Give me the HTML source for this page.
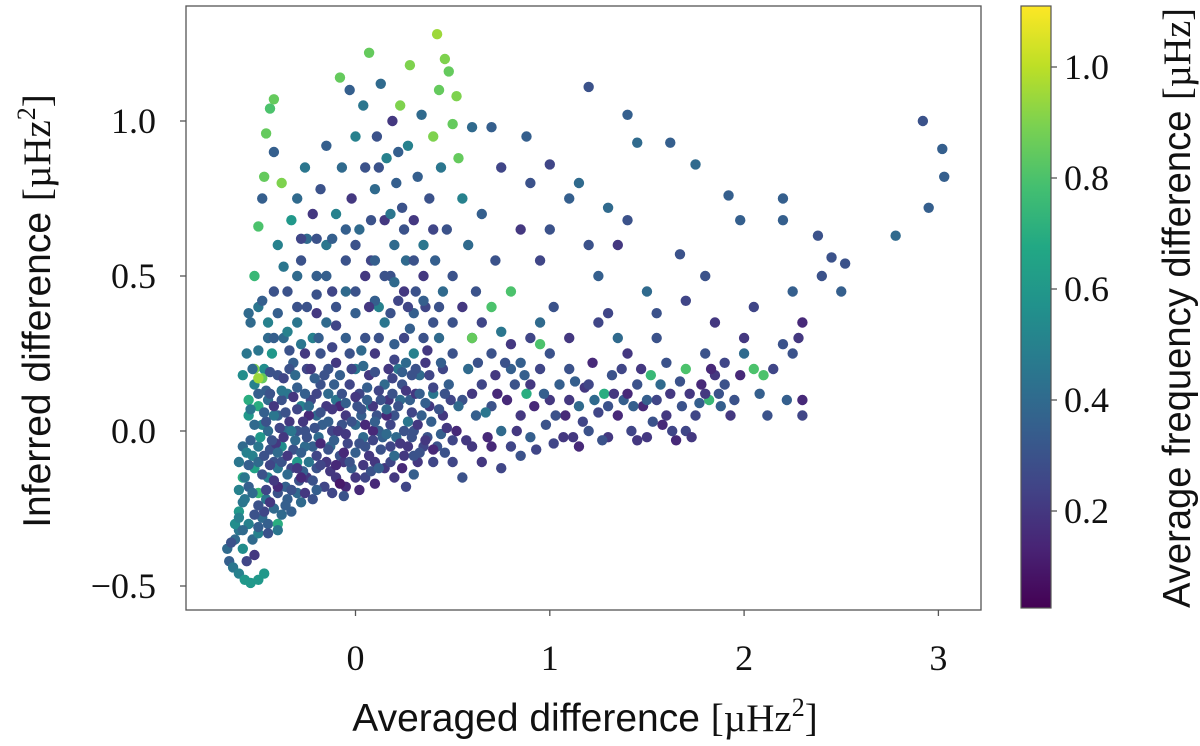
<!DOCTYPE html>
<html><head><meta charset="utf-8">
<style>
html,body{margin:0;padding:0;background:#fff;}
svg{display:block;}
.tk{font-family:"Liberation Serif","DejaVu Serif",serif;font-size:36px;fill:#111;}
.ttl{font-family:"Liberation Sans","DejaVu Sans",sans-serif;font-size:39px;fill:#111;}
</style></head>
<body>
<svg id="chart" width="1200" height="746" xmlns="http://www.w3.org/2000/svg">
<defs>
<linearGradient id="vir" x1="0" y1="1" x2="0" y2="0">
<stop offset="0" stop-color="#440154"/><stop offset="0.1" stop-color="#482475"/><stop offset="0.2" stop-color="#414487"/><stop offset="0.3" stop-color="#355f8d"/><stop offset="0.4" stop-color="#2a788e"/><stop offset="0.5" stop-color="#21918c"/><stop offset="0.6" stop-color="#22a884"/><stop offset="0.7" stop-color="#44bf70"/><stop offset="0.8" stop-color="#7ad151"/><stop offset="0.9" stop-color="#bddf26"/><stop offset="1" stop-color="#fde725"/>
</linearGradient>
</defs>
<g id="points"></g>
<rect x="186" y="6" width="795" height="604" fill="none" stroke="#555" stroke-width="1.3"/>
<g id="axes"></g>
<rect x="1021" y="6" width="30" height="602" fill="url(#vir)" stroke="#555" stroke-width="1.2"/>
<text class="ttl" x="585" y="731" text-anchor="middle">Averaged difference <tspan class="tk" style="font-size:39px">[µHz<tspan dy="-15" style="font-size:26px">2</tspan><tspan dy="15">]</tspan></tspan></text>
<text class="ttl" transform="translate(50,311) rotate(-90)" text-anchor="middle">Inferred difference <tspan class="tk" style="font-size:39px">[µHz<tspan dy="-15" style="font-size:26px">2</tspan><tspan dy="15">]</tspan></tspan></text>
<text class="ttl" transform="translate(1190,308) rotate(-90)" text-anchor="middle" textLength="600" lengthAdjust="spacingAndGlyphs">Average frequency difference <tspan class="tk" style="font-size:39px">[µHz]</tspan></text>
</svg>
<script>
const xTicks=[0,1,2,3];
const yTicks=[-0.5,0.0,0.5,1.0];
const cTicks=[0.2,0.4,0.6,0.8,1.0];
const pts=[
[-0.66,-0.38,.4],[-0.65,-0.42,.35],[-0.63,-0.44,.45],[-0.6,-0.46,.5],[-0.57,-0.48,.6],[-0.54,-0.49,.6],[-0.5,-0.48,.6],[-0.47,-0.46,.6],[-0.62,-0.35,.4],[-0.6,-0.32,.45],[-0.58,-0.38,.55],[-0.55,-0.3,.5],[-0.6,-0.26,.6],[-0.57,-0.22,.45],[-0.53,-0.35,.4],[-0.5,-0.33,.5],[-0.48,-0.28,.4],[-0.45,-0.3,.35],[-0.42,-0.25,.4],[-0.55,-0.18,.35],[-0.52,-0.12,.65],[-0.58,-0.15,.7],[-0.5,-0.2,.75],[-0.46,-0.22,.45],[-0.4,-0.2,.3],[-0.35,-0.22,.35],[-0.3,-0.2,.4],[-0.62,-0.3,.55],[-0.64,-0.36,.3],[-0.4,-0.3,.7],[-0.52,-0.4,.2],[-0.56,-0.42,.25],
[-0.5,-0.05,.45],[-0.48,0.02,.5],[-0.45,0.1,.4],[-0.42,-0.1,.3],[-0.4,0.05,.35],[-0.38,-0.05,.55],[-0.35,0.12,.45],[-0.33,-0.12,.25],[-0.3,0.0,.3],[-0.28,0.08,.5],[-0.25,-0.15,.2],[-0.22,-0.05,.35],[-0.2,0.05,.4],[-0.18,0.15,.3],[-0.15,-0.1,.2],[-0.12,0.0,.25],[-0.1,0.1,.45],[-0.08,-0.08,.3],[-0.05,0.05,.2],[-0.02,-0.12,.35],[0.0,0.02,.4],[0.02,0.12,.25],[0.05,-0.05,.3],[0.08,0.08,.5],[0.1,-0.1,.2],[0.12,0.0,.35],[0.15,0.15,.4],[0.18,-0.05,.25],[0.2,0.05,.3],[0.22,0.2,.45],[0.25,-0.08,.2],[0.28,0.1,.35],[0.3,0.0,.3],[0.33,0.18,.4],[0.35,-0.05,.25],[0.38,0.08,.2],[0.4,0.12,.45],
[-0.52,0.15,.5],[-0.47,0.2,.55],[-0.43,0.25,.6],[-0.4,0.18,.3],[-0.37,0.3,.4],[-0.32,0.22,.35],[-0.28,0.28,.45],[-0.25,0.2,.25],[-0.22,0.3,.5],[-0.18,0.25,.3],[-0.15,0.35,.4],[-0.1,0.22,.2],[-0.05,0.3,.35],[0.0,0.2,.45],[0.05,0.3,.3],[0.1,0.25,.2],[0.15,0.35,.45],[0.2,0.28,.35],[0.25,0.3,.25],[0.3,0.25,.5],[0.35,0.3,.3],
[-0.45,-0.15,.5],[-0.4,-0.12,.45],[-0.36,-0.18,.35],[-0.3,-0.1,.6],[-0.26,-0.05,.4],[-0.2,-0.12,.3],[-0.16,-0.18,.25],[-0.1,-0.15,.2],[-0.05,-0.18,.15],[0.0,-0.15,.2],[0.05,-0.15,.25],[0.1,-0.17,.15],[0.15,-0.12,.2],[-0.55,0.05,.6],[-0.53,-0.08,.5],[-0.5,0.08,.7],[-0.48,0.17,.85],[-0.45,0.0,.4],[-0.42,0.05,.45],[-0.38,0.1,.3],[-0.34,0.03,.2],[-0.3,0.14,.35],[-0.26,0.0,.3],[-0.23,0.1,.25],[-0.19,-0.02,.4],[-0.15,0.08,.2],[-0.11,0.15,.35],[-0.07,0.02,.3],[-0.03,0.15,.25],[0.01,0.08,.3],[0.04,-0.02,.4],[0.07,0.18,.2],[0.11,0.05,.3],[0.14,-0.02,.35],[0.17,0.1,.2],[0.21,-0.02,.4],[0.24,0.15,.3],[0.27,0.03,.45],[0.31,0.12,.2],[0.34,0.05,.35],[0.37,-0.02,.3],
[-0.56,0.25,.45],[-0.54,0.35,.4],[-0.5,0.4,.45],[-0.45,0.35,.5],[-0.52,0.2,.9],[-0.5,0.17,.95],[-0.55,0.1,.7],
[-0.44,-0.06,.3],[-0.36,0.0,.4],[-0.32,-0.06,.3],[-0.27,-0.13,.35],[-0.24,0.05,.15],[-0.17,0.02,.35],[-0.13,-0.05,.4],[-0.08,0.08,.15],[-0.04,-0.04,.25],[0.03,0.05,.35],[0.09,0.0,.15],[0.13,0.1,.3],[0.19,0.17,.25],[0.26,0.22,.4],[0.32,-0.1,.2],[-0.46,0.13,.35],[-0.41,-0.04,.2],[-0.34,0.2,.3],[-0.29,-0.16,.3],[-0.21,0.17,.35],[-0.14,0.2,.3],[-0.06,-0.1,.2],[0.06,0.14,.35],[0.16,0.05,.15],[0.23,0.1,.4],[0.29,0.18,.3],[0.36,0.22,.2],[-0.58,-0.05,.4],[-0.58,0.18,.55],[-0.6,-0.1,.45],
[-0.55,0.38,.4],[-0.52,0.5,.75],[-0.5,0.66,.8],[-0.48,0.75,.35],[-0.47,0.82,.85],[-0.46,0.96,.85],[-0.44,1.04,.8],[-0.42,1.07,.85],[-0.42,0.9,.35],[-0.4,0.6,.5],[-0.38,0.8,.9],[-0.37,0.53,.45],[-0.35,0.45,.3],[-0.33,0.68,.6],[-0.3,0.75,.4],[-0.3,0.4,.3],[-0.28,0.55,.3],[-0.26,0.85,.45],[-0.25,0.62,.4],[-0.22,0.7,.2],[-0.2,0.5,.35],[-0.18,0.78,.3],[-0.15,0.92,.35],[-0.15,0.6,.45],[-0.12,0.45,.25],[-0.1,0.7,.5],[-0.08,1.14,.85],[-0.07,0.85,.4],[-0.05,0.55,.3],[-0.03,1.1,.35],[-0.02,0.75,.2],[0.0,0.95,.5],[0.0,0.45,.3],[0.02,0.65,.4],[0.04,1.05,.45],[0.05,0.85,.3],[0.07,1.22,.85],[0.08,0.55,.25],[0.1,0.78,.4],[0.11,0.95,.3],[0.12,0.4,.5],[0.13,1.12,.4],[0.15,0.68,.2],[0.16,0.88,.5],[0.18,0.5,.3],[0.19,1.0,.2],[0.2,0.6,.4],[0.21,0.8,.35],[0.22,0.42,.25],[0.23,1.05,.9],[0.24,0.72,.3],[0.26,0.55,.4],[0.27,0.92,.5],[0.28,1.18,.9],[0.3,0.68,.2],[0.31,0.45,.3],[0.32,0.82,.35],[0.34,1.02,.4],[0.35,0.6,.45],[0.36,0.4,.25],[0.38,0.75,.3],[0.4,0.95,.9],[0.41,0.55,.35],[0.42,1.28,.95],[0.43,1.1,.85],[0.44,0.85,.45],[0.46,1.2,.9],[0.47,0.65,.3],[0.48,1.16,.85],[0.5,0.99,.85],[0.5,0.5,.3],[0.52,1.08,.9],[0.53,0.88,.85],[0.55,0.75,.5],[0.58,0.6,.4],[0.6,0.98,.4],[0.62,0.45,.3],[0.65,0.7,.35],[0.7,0.98,.35],[0.72,0.55,.3],[0.75,0.85,.25],[0.8,0.45,.8],[0.85,0.65,.2],[0.88,0.95,.35],[0.9,0.8,.3],[0.95,0.55,.25],[1.0,0.65,.3],[1.0,0.86,.25],[1.02,0.4,.3],[1.1,0.75,.35],[1.15,0.8,.4],[1.2,0.6,.3],[1.2,1.11,.3],[1.25,0.5,.35],[1.3,0.72,.4],[1.3,0.38,.25],[1.35,0.6,.2],[1.4,0.68,.3],[1.4,1.02,.35],[1.45,0.93,.4],[1.5,0.45,.4],[1.55,0.38,.3],[1.62,0.93,.35],[1.67,0.57,.3],[1.7,0.42,.25],[1.75,0.86,.4],[1.8,0.5,.3],[1.85,0.35,.2],[1.92,0.76,.35],[1.98,0.68,.35],[2.0,0.3,.2],[2.05,0.4,.25],[2.2,0.75,.35],[2.2,0.68,.35],[2.25,0.45,.35],[2.3,0.35,.15],[2.38,0.63,.3],[2.4,0.5,.3],[2.45,0.56,.3],[2.5,0.45,.35],[2.52,0.54,.3],[2.78,0.63,.4],[2.92,1.0,.3],[3.02,0.91,.35],[3.03,0.82,.35],[2.95,0.72,.35],
[-0.45,0.3,.4],[-0.4,0.38,.35],[-0.35,0.32,.5],[-0.25,0.4,.3],[-0.2,0.38,.2],[-0.1,0.4,.3],[-0.05,0.45,.4],[0.05,0.5,.2],[0.1,0.42,.35],[0.15,0.5,.3],[0.25,0.45,.2],[0.3,0.38,.35],[0.35,0.5,.2],[0.4,0.35,.3],[0.45,0.45,.4],[0.5,0.35,.3],[0.55,0.4,.2],[0.6,0.3,.35],[0.65,0.35,.25],[0.7,0.25,.3],[0.75,0.32,.45],[0.8,0.28,.2],[0.85,0.22,.35],[0.9,0.3,.25],[0.95,0.35,.4],[0.0,0.6,.3],[-0.12,0.62,.35],[0.18,0.7,.45],[0.08,0.68,.3],[-0.28,0.62,.25],
[0.42,-0.05,.3],[0.45,0.05,.2],[0.48,0.15,.35],[0.5,-0.1,.25],[0.52,0.0,.15],[0.55,0.1,.3],[0.58,0.2,.4],[0.6,-0.05,.2],[0.62,0.05,.35],[0.65,0.15,.25],[0.68,-0.02,.15],[0.7,0.08,.3],[0.72,0.18,.2],[0.75,0.0,.4],[0.78,0.1,.15],[0.8,-0.05,.25],[0.82,0.15,.3],[0.85,0.05,.2],[0.88,0.12,.7],[0.9,-0.02,.35],[0.92,0.08,.15],[0.95,0.2,.25],[0.98,0.02,.3],[1.0,0.1,.2],[1.02,-0.04,.25],[1.05,0.15,.35],[1.08,0.05,.15],[1.1,0.2,.3],[1.12,-0.02,.2],[1.15,0.08,.4],[1.18,0.14,.2],[1.2,0.0,.3],[1.22,0.22,.15],[1.25,0.06,.25],[1.28,0.12,.7],[1.3,-0.02,.2],[1.32,0.18,.3],[1.35,0.05,.15],[1.38,0.1,.35],[1.4,0.25,.2],[1.42,0.0,.25],[1.45,0.15,.3],[1.48,0.08,.15],[1.5,-0.02,.2],[1.52,0.18,.75],[1.55,0.1,.25],[1.58,0.02,.15],[1.6,0.22,.3],[1.62,0.12,.2],[1.65,-0.03,.15],[1.68,0.08,.3],[1.7,0.2,.8],[1.72,0.12,.2],[1.75,0.05,.25],[1.78,0.15,.15],[1.8,0.25,.3],[1.82,0.1,.75],[1.85,0.18,.2],[1.88,0.08,.35],[1.9,0.22,.25],[1.95,0.1,.3],[1.98,0.18,.15],[2.0,0.25,.4],[2.05,0.2,.8],[2.08,0.12,.35],[2.1,0.18,.8],[2.12,0.05,.3],[2.15,0.2,.25],[2.2,0.28,.3],[2.22,0.1,.35],[2.25,0.25,.3],[2.28,0.3,.2],[2.3,0.1,.15],[2.3,0.05,.25],
[0.5,0.25,.3],[0.6,0.12,.2],[0.7,-0.05,.15],[0.8,0.2,.35],[0.9,0.15,.2],[1.0,0.25,.3],[1.1,0.1,.2],[1.2,0.15,.25],[1.3,0.08,.3],[1.4,0.12,.15],[1.5,0.1,.35],[1.6,0.05,.2],[1.7,0.0,.25],[1.8,0.12,.2],[1.9,0.15,.3],[0.65,-0.1,.2],[0.75,-0.12,.25],[0.85,-0.08,.3],[0.55,-0.15,.3],[1.15,-0.05,.15],[1.45,-0.03,.2],[0.95,0.28,.8],[0.6,0.3,.85],[0.7,0.4,.8],[1.35,0.3,.4],[1.1,0.3,.2],[1.55,0.3,.3],[1.25,0.35,.25],
[0.45,0.2,.25],[0.53,0.08,.4],[0.57,-0.03,.2],[0.63,0.22,.3],[0.67,0.06,.45],[0.73,0.12,.15],[0.77,0.22,.3],[0.83,0.0,.2],[0.87,0.18,.35],[0.93,-0.06,.25],[0.97,0.12,.35],[1.03,0.05,.3],[1.07,-0.02,.2],[1.13,0.16,.35],[1.17,0.03,.25],[1.23,0.1,.4],[1.27,-0.03,.3],[1.33,0.12,.2],[1.37,0.2,.25],[1.43,0.08,.35],[1.47,0.2,.2],[1.53,0.03,.3],[1.57,0.15,.4],[1.63,0.0,.25],[1.67,0.16,.3],[1.73,-0.02,.2],[1.77,0.09,.35],[1.83,0.2,.15],[1.87,0.12,.3],[1.93,0.05,.2],
[-0.58,-0.32,.4],[-0.5,-0.31,.35],[-0.45,-0.33,.3],[-0.4,-0.32,.45],[-0.6,-0.28,.5],[-0.52,-0.27,.3],[-0.47,-0.26,.25],[-0.38,-0.27,.4],[-0.33,-0.26,.35],[-0.58,-0.23,.45],[-0.5,-0.24,.3],[-0.44,-0.23,.2],[-0.36,-0.24,.35],[-0.28,-0.23,.4],[-0.22,-0.22,.3],[-0.6,-0.19,.5],[-0.53,-0.2,.4],[-0.46,-0.19,.25],[-0.4,-0.18,.15],[-0.33,-0.19,.3],[-0.26,-0.2,.2],[-0.2,-0.19,.35],[-0.12,-0.2,.25],[-0.06,-0.21,.3],
[-0.57,-0.15,.45],[-0.48,-0.14,.3],[-0.42,-0.16,.2],[-0.35,-0.14,.4],[-0.28,-0.15,.15],[-0.22,-0.16,.3],[-0.13,-0.13,.2],[-0.08,-0.17,.1],[0.02,-0.19,.15],[0.08,-0.13,.3],[0.2,-0.15,.2],[0.26,-0.18,.25],[0.3,-0.14,.35],
[-0.55,-0.11,.35],[-0.5,-0.1,.4],[-0.44,-0.11,.25],[-0.38,-0.1,.3],[-0.3,-0.12,.2],[-0.24,-0.1,.45],[-0.18,-0.11,.25],[-0.1,-0.11,.15],[-0.03,-0.1,.3],[0.04,-0.11,.2],[0.12,-0.12,.35],[0.18,-0.1,.25],[0.24,-0.12,.15],[0.3,-0.08,.3],[0.4,-0.1,.25],
[-0.56,-0.07,.5],[-0.47,-0.08,.3],[-0.4,-0.07,.4],[-0.35,-0.08,.2],[-0.28,-0.07,.35],[-0.2,-0.08,.25],[-0.14,-0.06,.3],[-0.06,-0.07,.15],[0.0,-0.07,.35],[0.07,-0.08,.2],[0.13,-0.06,.3],[0.2,-0.08,.4],[0.27,-0.05,.2],[0.33,-0.07,.3],[0.4,-0.06,.15],[0.46,-0.07,.3],
[-0.54,-0.03,.35],[-0.49,-0.02,.6],[-0.43,-0.03,.3],[-0.37,-0.02,.2],[-0.31,-0.03,.4],[-0.25,-0.02,.3],[-0.18,-0.04,.15],[-0.11,-0.03,.35],[-0.05,-0.01,.2],[0.02,-0.04,.3],[0.09,-0.03,.25],[0.16,-0.01,.4],[0.23,-0.04,.2],[0.29,-0.02,.3],[0.36,-0.03,.2],[0.44,-0.01,.35],[0.5,-0.03,.25],
[-0.52,0.02,.4],[-0.46,0.03,.3],[-0.39,0.01,.25],[-0.33,0.0,.45],[-0.27,0.03,.2],[-0.21,0.01,.3],[-0.14,0.03,.35],[-0.09,0.0,.2],[-0.02,0.03,.3],[0.05,0.02,.15],[0.1,0.03,.35],[0.18,0.02,.25],[0.25,0.0,.3],[0.32,0.02,.2],[0.39,0.03,.35],[0.47,0.01,.2],
[-0.54,0.07,.45],[-0.47,0.06,.35],[-0.42,0.08,.2],[-0.36,0.06,.3],[-0.3,0.07,.25],[-0.24,0.08,.4],[-0.18,0.06,.3],[-0.12,0.07,.2],[-0.05,0.09,.35],[0.03,0.07,.3],[0.09,0.08,.2],[0.16,0.07,.4],[0.22,0.08,.3],[0.29,0.06,.25],[0.36,0.09,.35],[0.43,0.07,.3],[0.49,0.1,.25],
[-0.5,0.12,.35],[-0.44,0.12,.3],[-0.38,0.13,.45],[-0.32,0.11,.2],[-0.26,0.12,.35],[-0.2,0.12,.25],[-0.14,0.12,.4],[-0.07,0.12,.3],[0.0,0.11,.2],[0.06,0.1,.35],[0.12,0.13,.25],[0.19,0.12,.3],[0.26,0.13,.2],[0.33,0.12,.35],[0.4,0.14,.25],[0.46,0.12,.3],
[-0.53,0.2,.4],[-0.44,0.19,.3],[-0.37,0.17,.25],[-0.31,0.18,.4],[-0.23,0.2,.2],[-0.16,0.18,.3],[-0.08,0.18,.35],[-0.02,0.2,.25],[0.04,0.21,.4],[0.1,0.19,.3],[0.17,0.2,.2],[0.24,0.19,.35],[0.31,0.2,.3],[0.38,0.18,.25],[0.44,0.22,.35],
[-0.5,0.26,.45],[-0.42,0.3,.35],[-0.34,0.26,.3],[-0.26,0.25,.2],[-0.19,0.3,.35],[-0.12,0.27,.25],[-0.03,0.25,.3],[0.03,0.26,.4],[0.12,0.3,.3],[0.2,0.23,.25],[0.28,0.33,.35],[0.37,0.26,.2],[0.43,0.3,.4],
[-0.48,0.42,.35],[-0.42,0.45,.3],[-0.3,0.35,.45],[-0.2,0.44,.3],[-0.1,0.34,.25],[0.0,0.38,.35],[0.07,0.4,.2],[0.18,0.38,.3],[0.27,0.4,.25],[0.35,0.42,.35],[0.43,0.4,.3],[0.2,0.48,.4],[-0.15,0.5,.35],[0.3,0.55,.3],[0.1,0.55,.35],[-0.3,0.5,.4],[0.25,0.65,.3],[-0.05,0.65,.35],[0.4,0.65,.25],[0.12,0.85,.3],[-0.2,0.62,.3],[0.22,0.9,.35]
];
const xs=pts.map(p=>p[0]);
const ys=pts.map(p=>p[1]);
const cs=pts.map(p=>p[2]);

const X=v=>355.5+v*194.3;
const Y=v=>431+(-v)*310;
const C=v=>622-v*555;
const cMin=0.025,cMax=1.11;
const vir=[[68,1,84],[72,36,117],[65,68,135],[53,95,141],[42,120,142],[33,145,140],[34,168,132],[68,191,112],[122,209,81],[189,223,38],[253,231,37]];
function viridis(v){let t=(v-cMin)/(cMax-cMin);t=Math.max(0,Math.min(1,t))*10;const i=Math.min(9,Math.floor(t)),f=t-i;const a=vir[i],b=vir[i+1];return `rgb(${a.map((q,k)=>Math.round(q+(b[k]-q)*f)).join(',')})`;}
const NS='http://www.w3.org/2000/svg';
const gp=document.getElementById('points');
for(let i=0;i<xs.length;i++){
 const c=document.createElementNS(NS,'circle');
 c.setAttribute('cx',X(xs[i]));c.setAttribute('cy',Y(ys[i]));c.setAttribute('r',5.2);c.setAttribute('fill',viridis(cs[i]));
 
 
 gp.appendChild(c);
}
const ga=document.getElementById('axes');
function line(x1,y1,x2,y2){const l=document.createElementNS(NS,'line');l.setAttribute('x1',x1);l.setAttribute('y1',y1);l.setAttribute('x2',x2);l.setAttribute('y2',y2);l.setAttribute('stroke','#555');l.setAttribute('stroke-width','1.3');ga.appendChild(l);return l;}
function txt(x,y,s,anchor){const t=document.createElementNS(NS,'text');t.setAttribute('x',x);t.setAttribute('y',y);t.setAttribute('class','tk');t.setAttribute('text-anchor',anchor);t.textContent=s;ga.appendChild(t);return t;}
xTicks.forEach(v=>{
 const l=line(X(v),610,X(v),616);
 
 
 const t=txt(X(v),670,String(v),'middle');
 
 
});
yTicks.forEach(v=>{
 const l=line(180,Y(v),186,Y(v));
 
 
 const t=txt(156,Y(v)+12,(v<0?'\u2212':'')+Math.abs(v).toFixed(1),'end');
 
 
});
cTicks.forEach(v=>{
 const l=line(1051,C(v),1057,C(v));
 
 
 const t=txt(1064,C(v)+12,v.toFixed(1),'start');
 
 
});
</script>
</body></html>
